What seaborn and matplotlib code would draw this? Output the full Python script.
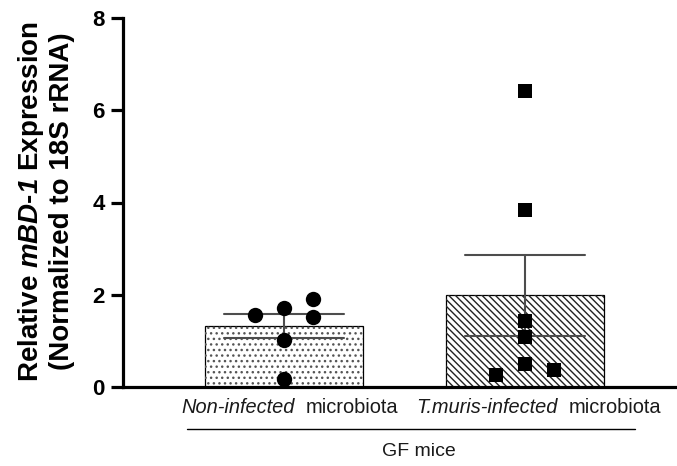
import numpy as np
import pandas as pd
import matplotlib
matplotlib.use("Agg")
import matplotlib.pyplot as plt
from matplotlib.lines import Line2D
from matplotlib.offsetbox import TextArea, HPacker, AnnotationBbox
import seaborn as sns

# ---- data -------------------------------------------------------------
groups = ["Non-infected microbiota", "T.muris-infected microbiota"]
noninfected_values = [1.56, 1.71, 1.91, 1.52, 1.02, 0.17]
tmuris_values = [6.42, 3.84, 1.43, 1.08, 0.50, 0.26, 0.37]
yticks = [0, 2, 4, 6, 8]

# horizontal lanes used to spread overlapping points within a group
noninfected_lanes = [-1, 0, 1, 1, 0, 0]
tmuris_lanes = [0, 0, 0, 0, 0, -1, 1]
lane_step = 0.122

# ---- style ------------------------------------------------------------
sns.set_style("white")
plt.rcParams["font.family"] = ["Liberation Sans", "DejaVu Sans"]
plt.rcParams["text.color"] = "black"
plt.rcParams["axes.labelcolor"] = "black"
plt.rcParams["ytick.color"] = "black"
plt.rcParams["mathtext.fontset"] = "custom"
plt.rcParams["mathtext.rm"] = "Liberation Sans"
plt.rcParams["mathtext.it"] = "Liberation Sans:italic"
plt.rcParams["mathtext.bf"] = "Liberation Sans:bold"
plt.rcParams["mathtext.bfit"] = "Liberation Sans:italic:bold"
plt.rcParams["hatch.linewidth"] = 1.0

df = pd.DataFrame({
    "pos": [0] * len(noninfected_values) + [1] * len(tmuris_values),
    "value": noninfected_values + tmuris_values,
    "lane": noninfected_lanes + tmuris_lanes,
})
df["x"] = df["pos"] + df["lane"] * lane_step

W, H = 677, 466
fig = plt.figure(figsize=(W / 100, H / 100), dpi=100)
ax = fig.add_axes([123 / W, 1 - 387 / H, (W - 123) / W, (387 - 18) / H])

sns.barplot(data=df, x="pos", y="value", native_scale=True, width=0.655,
            errorbar="se", capsize=0.5, color="white", edgecolor="black",
            linewidth=0.9, saturation=1,
            err_kws={"color": "#4d4d4d", "linewidth": 1.5}, ax=ax)

# hatching: fine dots on the first bar, diagonal lines on the second
hatches = ["...", "\\\\\\\\\\"]
hatch_colors = ["#555555", "#222222"]
bars = [p for p in ax.patches]
for bar, h, hc in zip(bars, hatches, hatch_colors):
    overlay = plt.Rectangle(bar.get_xy(), bar.get_width(), bar.get_height(),
                            facecolor="none", edgecolor=hc, linewidth=0,
                            hatch=h, zorder=bar.get_zorder() + 0.1)
    ax.add_patch(overlay)

sns.scatterplot(data=df[df["pos"] == 0], x="x", y="value", marker="o",
                s=122, color="black", linewidth=0, zorder=5, ax=ax)
sns.scatterplot(data=df[df["pos"] == 1], x="x", y="value", marker="s",
                s=105, color="black", linewidth=0, zorder=5, ax=ax)

ax.set_xlim(-0.668, 1.631)
ax.set_ylim(0, 8)
ax.set_yticks(yticks)
ax.set_yticklabels([str(t) for t in yticks], fontsize=16, fontweight="bold",
                   color="black")
ax.set_xticks([])
ax.set_xlabel("")
ax.set_ylabel("")
for side in ["top", "right"]:
    ax.spines[side].set_visible(False)
for side in ["left", "bottom"]:
    ax.spines[side].set_linewidth(2.3)
    ax.spines[side].set_color("black")
ax.spines["left"].set_capstyle("projecting")
ax.tick_params(axis="y", length=9, width=2.3, pad=4, color="black",
               direction="out", left=True)

# category labels: italic descriptor followed by upright "microbiota"
label_parts = [("Non-infected", "microbiota"), ("T.muris-infected", "microbiota")]
label_shift = [4.0, 10.0]
for i, (it_part, rm_part) in enumerate(label_parts):
    box = HPacker(children=[
        TextArea(it_part, textprops=dict(fontsize=14.4, fontstyle="italic", color="#1a1a1a")),
        TextArea(rm_part, textprops=dict(fontsize=14.4, color="#1a1a1a")),
    ], align="baseline", pad=0, sep=8)
    ab = AnnotationBbox(box, (i, 0), xycoords=ax.get_xaxis_transform(),
                        xybox=(label_shift[i], -15), boxcoords="offset points",
                        box_alignment=(0.5, 0.5), frameon=False, pad=0)
    ax.add_artist(ab)

# group bracket line and group title
fig.add_artist(Line2D([187 / W, 635 / W], [1 - 429 / H] * 2,
                      transform=fig.transFigure, color="black", linewidth=1.0))
fig.text(418.5 / W, 1 - 452 / H, "GF mice", fontsize=14, ha="center",
         va="center", color="#1a1a1a")

fig.text(45.5 / W, 1 - 201 / H,
         "Relative $\\mathbfit{mBD}$-$\\mathbfit{1}$ Expression\n(Normalized to 18S rRNA)",
         rotation=90, fontsize=20, fontweight="bold", ha="center",
         va="center", multialignment="center", linespacing=1.12)

fig.savefig("out.png", dpi=100)
